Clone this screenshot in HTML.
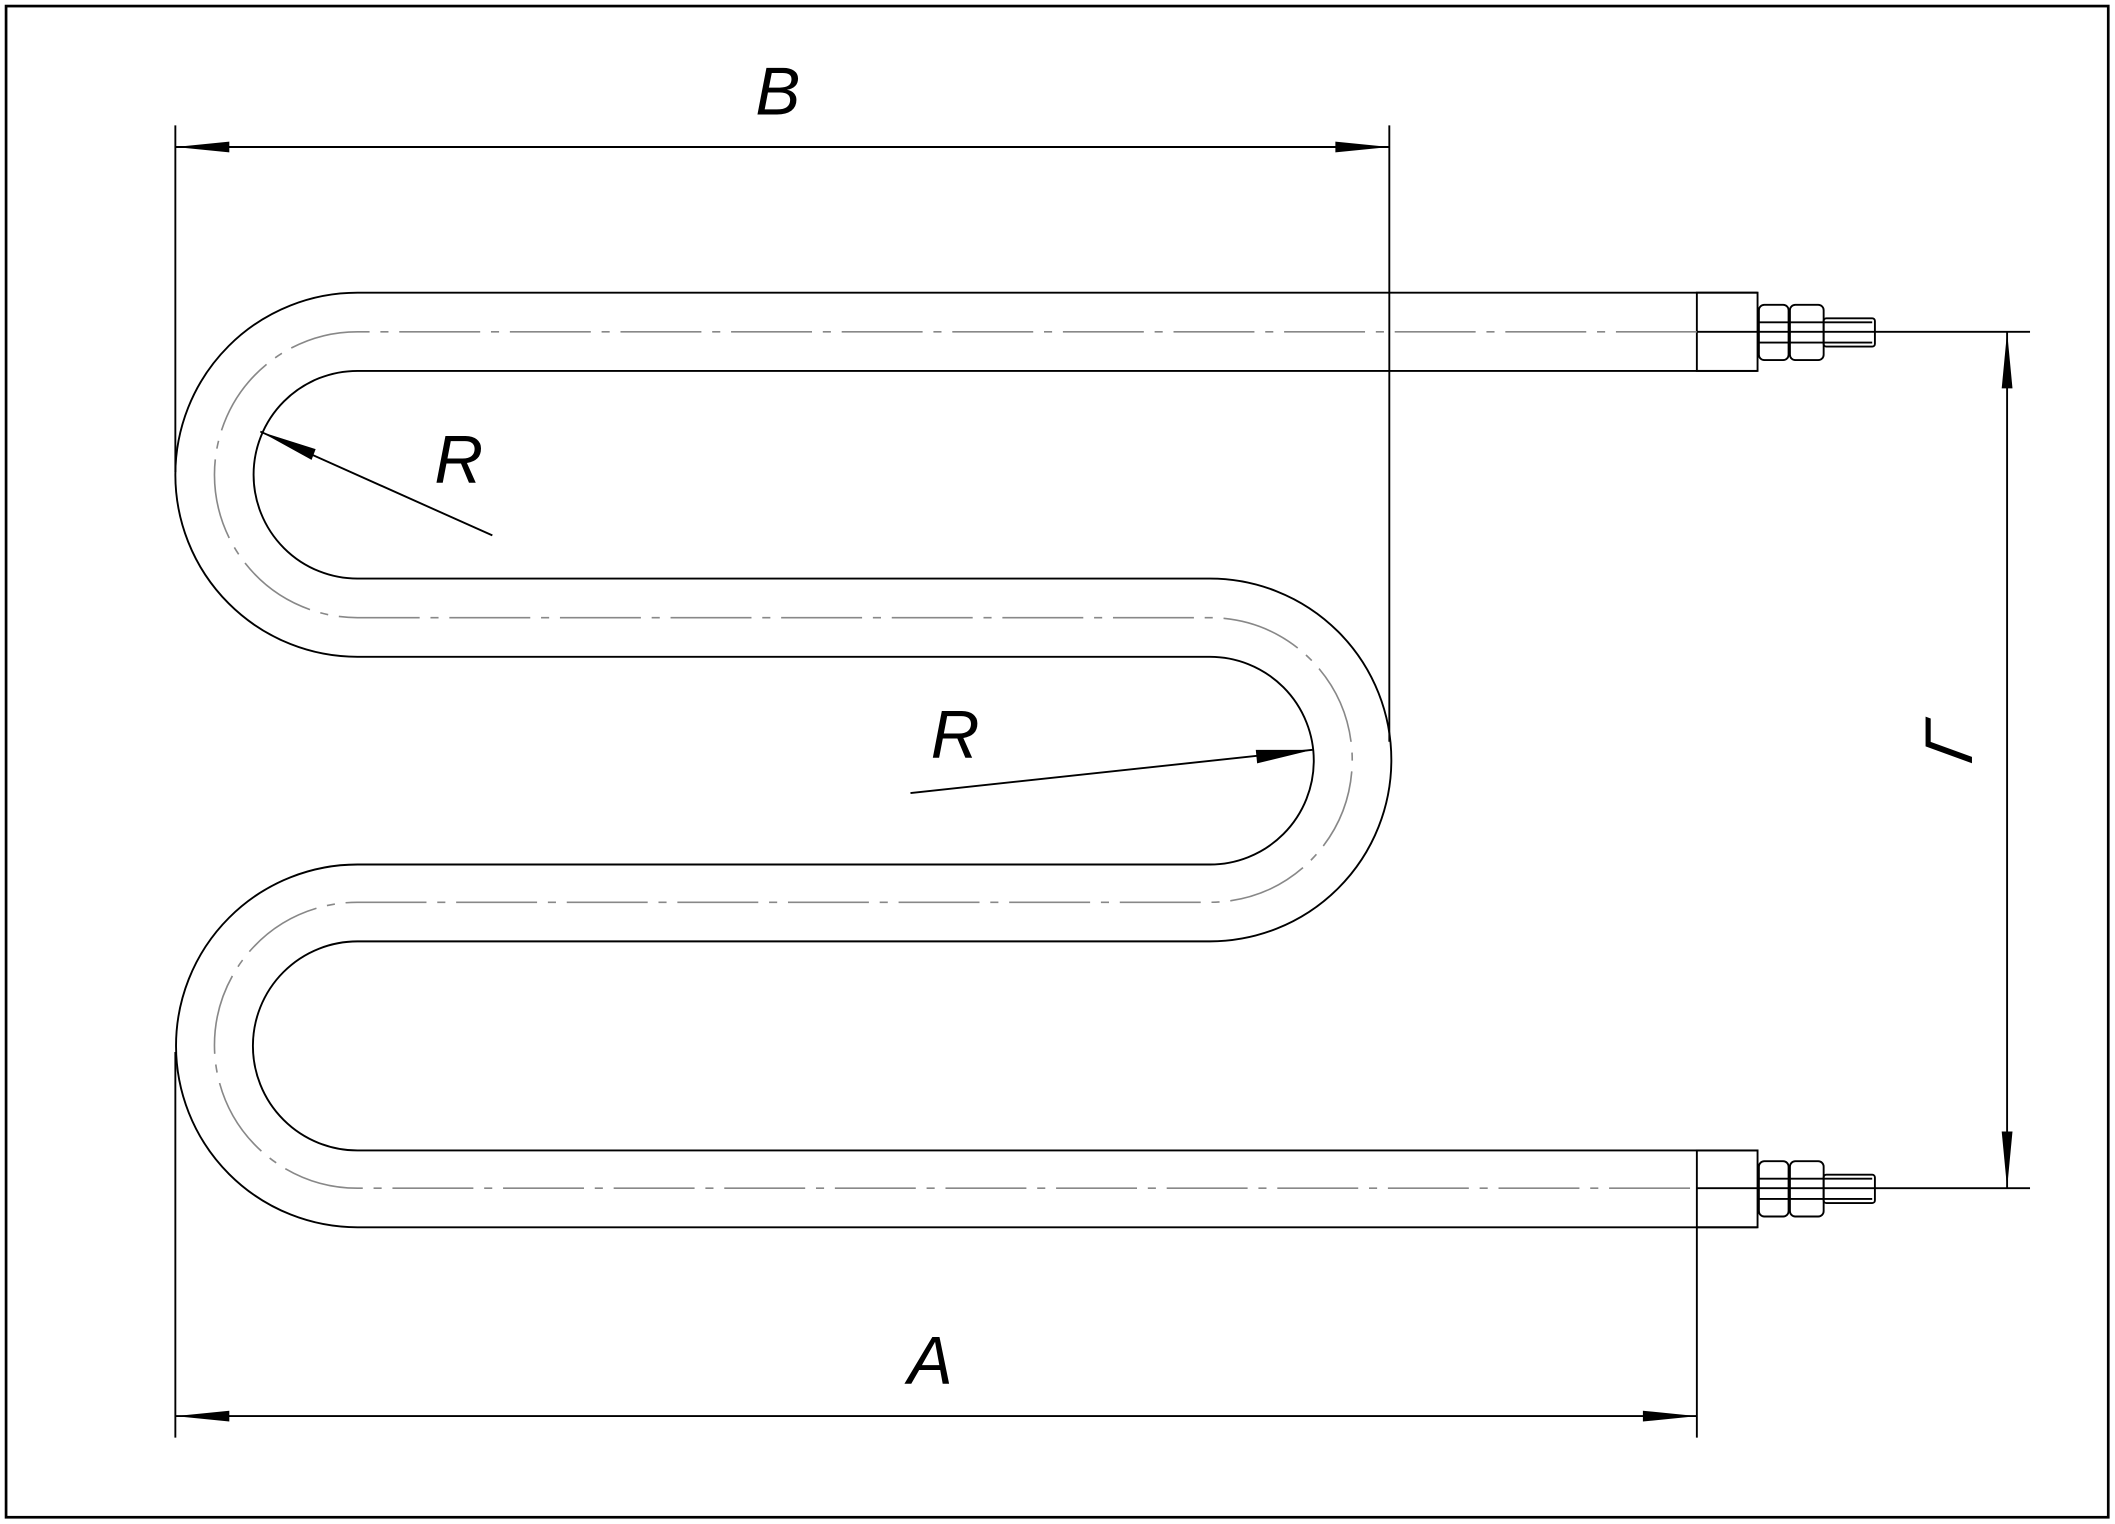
<!DOCTYPE html>
<html><head><meta charset="utf-8"><style>html,body{margin:0;padding:0;background:#fff}svg{display:block}</style></head><body>
<svg width="2115" height="1524" viewBox="0 0 1568 1130" preserveAspectRatio="none" xmlns="http://www.w3.org/2000/svg">
<rect x="4.5" y="4.5" width="1558.5" height="1120.5" fill="none" stroke="#000" stroke-width="2"/>
<g fill="none" stroke="#000" stroke-width="1.4">
<path d="M1303,217 L265,217 A135,135 0 0 0 265,487 L897,487 A77,77 0 0 1 897,641 L265,641 A134.5,134.5 0 0 0 265,910 L1303,910"/>
<path d="M1303,275 L265,275 A77,77 0 0 0 265,429 L897,429 A134.5,134.5 0 0 1 897,698 L265,698 A77.5,77.5 0 0 0 265,853 L1303,853"/>
<rect x="1258" y="217" width="45" height="58"/>
<rect x="1258" y="853" width="45" height="57"/>
<line x1="1258" y1="246" x2="1505" y2="246"/>
<line x1="1258" y1="881" x2="1505" y2="881"/>
</g>
<path d="M1258,246 L265,246 A106,106 0 0 0 265,458 L897,458 A105.5,105.5 0 0 1 897,669 L265,669 A106,106 0 0 0 265,881 L1258,881" fill="none" stroke="#888" stroke-width="1.2" stroke-dasharray="60,8,6,8"/>
<g fill="none" stroke="#000" stroke-width="1.4">
<g id="nut">
<rect x="1304" y="226" width="22" height="41" rx="4"/>
<rect x="1327" y="226" width="25" height="41" rx="4"/>
<line x1="1304" y1="239" x2="1352" y2="239"/><line x1="1304" y1="254" x2="1352" y2="254"/>
<rect x="1352" y="236" width="38" height="21" rx="2"/>
<line x1="1352" y1="239" x2="1388" y2="239"/><line x1="1352" y1="254" x2="1388" y2="254"/>
</g>
<use href="#nut" transform="translate(0,635)"/>
<line x1="130" y1="93" x2="130" y2="350"/>
<line x1="1030" y1="93" x2="1030" y2="550"/>
<line x1="130" y1="109" x2="1030" y2="109"/>
<line x1="130" y1="780" x2="130" y2="1066"/>
<line x1="1258" y1="910" x2="1258" y2="1066"/>
<line x1="1488" y1="246" x2="1488" y2="881"/>
<line x1="365" y1="397" x2="193" y2="320"/>
<line x1="675" y1="588" x2="973" y2="556"/>
<line x1="130" y1="1050" x2="1258" y2="1050"/>
</g>
<g fill="#000">
<path d="M130,109 L170,105 L170,113 Z"/><path d="M1030,109 L990,105 L990,113 Z"/>
<path d="M130,1050 L170,1046 L170,1054 Z"/><path d="M1258,1050 L1218,1046 L1218,1054 Z"/>
<path d="M1488,246 L1484,288 L1492,288 Z"/><path d="M1488,881 L1484,839 L1492,839 Z"/>
<path d="M193,320 L234,333 L231,341 Z"/><path d="M973,556 L931,556 L932,566 Z"/>
</g>
<g font-family="Liberation Sans, sans-serif" font-style="italic" font-size="50" fill="#000">
<text x="560" y="85">B</text>
<text x="673" y="1026">A</text>
<text x="322" y="358">R</text>
<text x="690" y="562">R</text>
<text transform="translate(1462,570) skewY(20) rotate(-90)" font-style="normal">Г</text>
</g>
</svg>
</body></html>
